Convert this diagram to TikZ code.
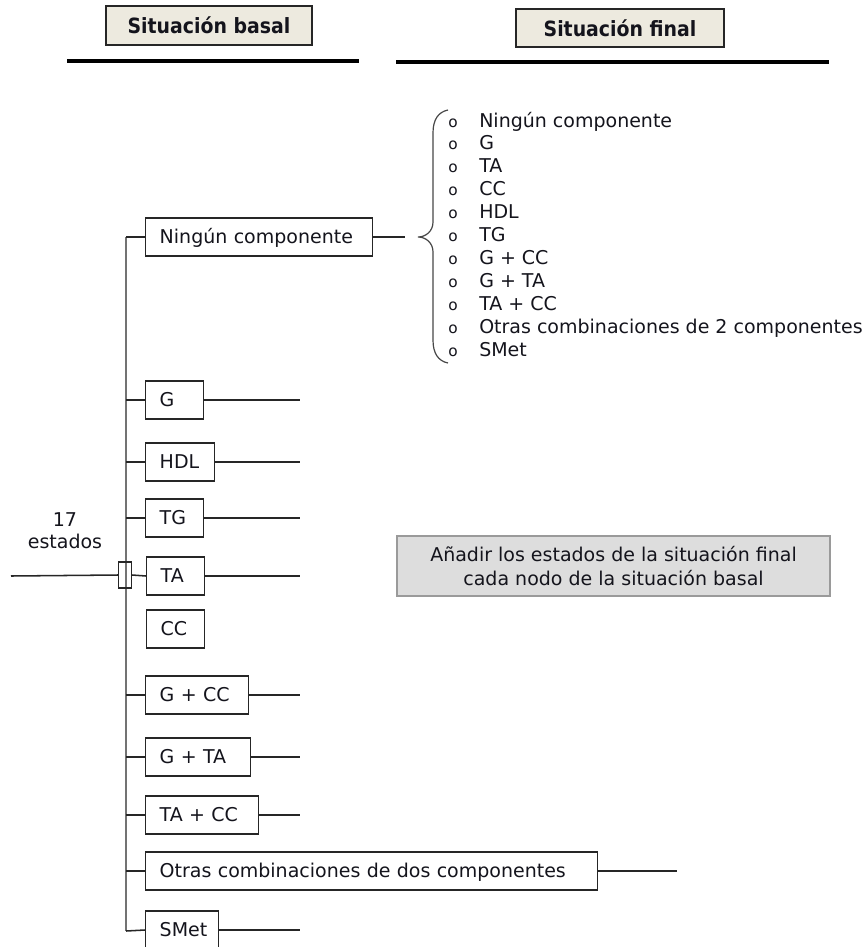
\documentclass[tikz,border=0pt]{standalone}
\usepackage{fontspec}
\setmainfont{DejaVu Sans}
\newfontfamily\headfont{DejaVu Sans Condensed}

\definecolor{ink}{HTML}{14141C}
\definecolor{edge}{HTML}{262626}
\definecolor{trunkgray}{HTML}{737373}
\definecolor{headfill}{HTML}{EDEADF}
\definecolor{notefill}{HTML}{DDDDDD}
\definecolor{noteedge}{HTML}{9A9A9A}

\begin{document}
\begin{tikzpicture}[x=0.75pt, y=-0.75pt,
  txt/.style={text=ink, font=\fontsize{14.25}{16.5}\selectfont},
  bx/.style={txt, draw=edge, line width=1.1pt, fill=white, anchor=west,
    inner xsep=10.5pt, inner ysep=0pt, minimum height=28.5pt,
    text width=#1, align=left, text height=10.4pt, text depth=0.5pt},
  hd/.style={draw=edge, line width=1.1pt, fill=headfill, text=ink,
    font=\headfont\bfseries\fontsize{15.75}{18}\selectfont, inner sep=0pt},
  link/.style={draw=edge, line width=1.15pt},
  trunk/.style={draw=trunkgray, line width=1.8pt},
  rule/.style={draw=black, line width=2.6pt},
  bullet/.style={text=ink, font=\fontsize{11.5}{12}\selectfont, anchor=base},
  opt/.style={txt, anchor=base west, inner sep=0pt},
]
\path[use as bounding box] (0,0) rectangle (863,947);
\clip (0,0) rectangle (863,947);

% column headings
\node[hd, minimum width=154.5pt, minimum height=29.25pt] (hbasal) at (209,25.5) {Situación basal};
\node[hd, minimum width=156pt, minimum height=28.5pt] (hfinal) at (620,28) {Situación final};
\draw[rule] (67,61) -- (359,61);
\draw[rule] (396,62) -- (829,62);

% trunk and branch anchors
\coordinate (tTop) at (126,237);
\coordinate (tBot) at (126,931);
\coordinate (rEnd) at (300,0);
\coordinate (inL) at (11,576);
\coordinate (nEnd) at (405,237);
\coordinate (oEnd) at (677,0);

\draw[trunk] (tTop) -- (tBot);

% baseline states
\node[bx=149.25pt] (ning) at (145,237) {Ningún componente};
\node[bx=22.5pt]   (g)    at (145,400) {G};
\node[bx=30.75pt]  (hdl)  at (145,462) {HDL};
\node[bx=22.5pt]   (tg)   at (145,518) {TG};
\node[bx=22.5pt]   (ta)   at (146,576) {TA};
\node[bx=22.5pt]   (cc)   at (146,629) {CC};
\node[bx=56.25pt]  (gcc)  at (145,695) {G + CC};
\node[bx=57.75pt]  (gta)  at (145,757) {G + TA};
\node[bx=63.75pt]  (tacc) at (145,815) {TA + CC};
\node[bx=318pt]    (otras) at (145,871) {Otras combinaciones de dos componentes};
\node[bx=33.75pt]  (smet) at (145,930) {SMet};

% stubs from the trunk
\foreach \n in {ning,g,hdl,tg,gcc,gta,tacc,otras}
  \draw[link] (\n.west -| tTop) -- (\n.west);
\draw[link] (tBot) -- (smet.west);

% junction with the incoming line
\node[draw=edge, line width=0.9pt, minimum width=9.75pt, minimum height=19.5pt, inner sep=0pt] (junc) at (125,575) {};
\draw[link] (inL) -- (junc.west);
\draw[link] (junc.east) -- (ta.west);
\node[txt, align=center] (count) at (65,531) {17\\estados};

% outgoing lines
\foreach \n in {g,hdl,tg,ta,gcc,gta,tacc,smet}
  \draw[link] (\n.east) -- (\n.east -| rEnd);
\draw[link] (otras.east) -- (otras.east -| oEnd);
\draw[link] (ning.east) -- (nEnd);

% brace with the final states
\draw[draw=edge!85, line width=0.9pt]
  (448,110) .. controls (438,112) and (433,120) .. (433,133) -- (433,222)
  .. controls (433,231) and (426,237) .. (418,237)
  .. controls (426,237) and (433,243) .. (433,252) -- (433,340)
  .. controls (433,353) and (438,361) .. (448,363);

\foreach \t [count=\i from 0] in {Ningún componente, G, TA, CC, HDL, TG, G + CC, G + TA, TA + CC, Otras combinaciones de 2 componentes, SMet} {
  \node[bullet] (b\i) at (453,{127+22.9*\i}) {o};
  \node[opt] (f\i) at (479,{127+22.9*\i}) {\t};
}

% note
\node[txt, draw=noteedge, fill=notefill, line width=1.1pt, minimum width=324.75pt,
  minimum height=45pt, align=center, font=\fontsize{14.25}{18}\selectfont] (note) at (613.5,566)
  {Añadir los estados de la situación final\\cada nodo de la situación basal};
\end{tikzpicture}
\end{document}
